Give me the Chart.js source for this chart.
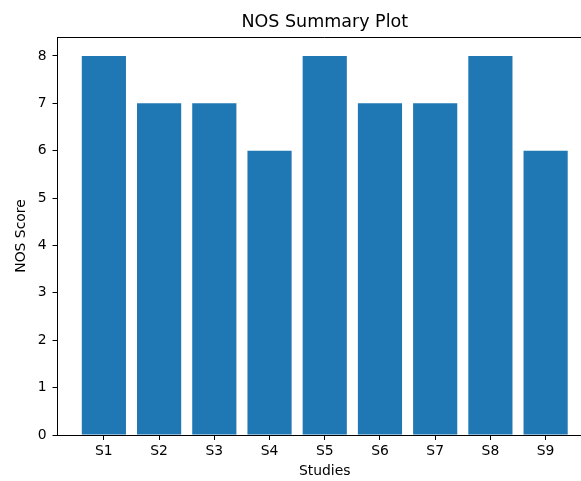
<!DOCTYPE html>
<html>
<head>
<meta charset="utf-8">
<script src="https://cdn.jsdelivr.net/npm/chart.js@4"></script>
<style>
  html, body { margin: 0; padding: 0; background: #fff; overflow: hidden; }
  #myChart { position: absolute; left: 0; top: 0; }
</style>
</head>
<body>
<canvas id="myChart" width="600" height="481"></canvas>
<script>
const studies = ['S1', 'S2', 'S3', 'S4', 'S5', 'S6', 'S7', 'S8', 'S9'];
const nosScores = [8, 7, 7, 6, 8, 7, 7, 8, 6];
const yTicks = [0, 1, 2, 3, 4, 5, 6, 7, 8];
const chartTitle = 'NOS Summary Plot';

const font = { family: 'DejaVu Sans', size: 13.9 };

// title centred over the axes + top and right spines (matplotlib box)
const frame = {
    id: 'frame',
    afterDraw(chart) {
        const { ctx, chartArea: a } = chart;
        ctx.save();
        ctx.strokeStyle = '#000';
        ctx.lineWidth = 1;
        ctx.beginPath();
        ctx.moveTo(a.left, a.top + 0.5);
        ctx.lineTo(a.right, a.top + 0.5);
        ctx.lineTo(a.right, a.bottom);
        ctx.stroke();
        ctx.fillStyle = '#000';
        ctx.font = '17.5px "DejaVu Sans"';
        ctx.textAlign = 'center';
        ctx.textBaseline = 'alphabetic';
        ctx.fillText(chartTitle, (a.left + a.right) / 2, a.top - 10.5);
        ctx.restore();
    }
};

new Chart(document.getElementById('myChart'), {
    type: 'bar',
    data: {
        datasets: [{
            data: nosScores.map((v, i) => ({ x: i, y: v })),
            backgroundColor: '#1f77b4',
            barPercentage: 0.8,
            categoryPercentage: 1.0,
        }]
    },
    options: {
        responsive: false,
        animation: false,
        layout: { padding: { left: 0, right: 8, top: 37, bottom: 0 } },
        plugins: {
            legend: { display: false },
            tooltip: { enabled: false },
            title: { display: false },
        },
        scales: {
            x: {
                type: 'linear',
                min: -0.84,
                max: 8.84,
                offset: false,
                afterBuildTicks: (s) => { s.ticks = studies.map((_, i) => ({ value: i })); },
                afterFit: (s) => { s.height = 46; },
                ticks: {
                    color: '#000',
                    font: font,
                    padding: 3,
                    maxRotation: 0,
                    autoSkip: false,
                    callback: (v) => studies[v],
                },
                grid: { offset: false, drawOnChartArea: false, drawTicks: true, tickLength: 5, color: '#000' },
                border: { color: '#000', width: 1 },
                title: { display: true, text: 'Studies', color: '#000', font: font, padding: { top: 0, bottom: 1 } },
            },
            y: {
                min: 0,
                max: 8.4,
                afterBuildTicks: (s) => { s.ticks = yTicks.map(v => ({ value: v })); },
                afterFit: (s) => { s.width = 57.5; },
                ticks: { color: '#000', font: font, padding: 6 },
                grid: { drawOnChartArea: false, drawTicks: true, tickLength: 5, color: '#000' },
                border: { color: '#000', width: 1 },
                title: { display: true, text: 'NOS Score', color: '#000', font: font, padding: { top: 13, bottom: 0 } },
            },
        },
    },
    plugins: [frame],
});
</script>
</body>
</html>
